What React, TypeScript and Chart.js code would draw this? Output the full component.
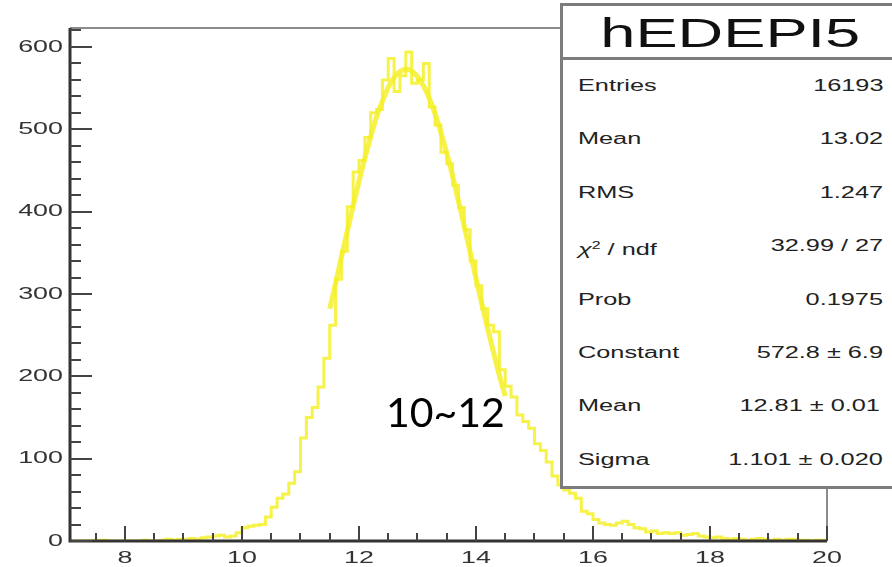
import React, { useEffect, useRef } from 'react';
import { Chart, registerables } from 'chart.js';

Chart.register(...registerables);

// ---- data ----
const BIN_LOW = 7.0;
const BIN_WIDTH = 0.1;
// 130 bins from 7.0 to 20.0
const COUNTS = [
  0, 0, 0, 0, 0, 1, 1, 0, 0, 0,
  0, 0, 0, 1, 0, 0, 1, 2, 1, 2,
  2, 3, 2, 4, 5, 6, 7, 5, 6, 10,
  16, 18, 19, 20, 29, 41, 52, 57, 70, 84,
  125, 150, 162, 187, 222, 262, 318, 352, 406, 448,
  462, 490, 520, 524, 560, 586, 546, 565, 594, 556,
  560, 580, 527, 505, 472, 458, 432, 405, 378, 340,
  310, 282, 262, 254, 208, 188, 175, 153, 145, 137,
  118, 110, 96, 79, 68, 62, 58, 52, 36, 33,
  26, 22, 20, 19, 22, 24, 20, 16, 15, 11,
  12, 9, 10, 9, 10, 7, 8, 9, 6, 5,
  4, 5, 3, 2, 3, 2, 1, 2, 3, 2,
  1, 2, 1, 2, 2, 1, 1, 0, 1, 1,
];
const FIT_X = [
  11.5, 11.6, 11.7, 11.8, 11.9, 12.0, 12.1, 12.2, 12.3, 12.4,
  12.5, 12.6, 12.7, 12.8, 12.9, 13.0, 13.1, 13.2, 13.3, 13.4,
  13.5, 13.6, 13.7, 13.8, 13.9, 14.0, 14.1, 14.2, 14.3, 14.4, 14.5,
];
const FIT_Y = [
  282, 313, 345, 376, 407, 437, 465, 491, 515, 534,
  551, 563, 570, 573, 571, 564, 553, 538, 519, 496,
  471, 443, 413, 382, 351, 319, 288, 258, 229, 201, 176,
];
const X_TICKS = [8, 10, 12, 14, 16, 18, 20];
const Y_TICKS = [0, 100, 200, 300, 400, 500, 600];
const X_MINOR = 0.5;
const Y_MINOR = 20;
const X_MIN = 7.06;
const X_MAX = 20;
const Y_MAX = 623;

const TITLE = 'hEDEPI5';
const STAT_LABELS = ['Entries', 'Mean', 'RMS', 'CHI', 'Prob', 'Constant', 'Mean', 'Sigma'];
const STAT_VALUES = ['16193', '13.02', '1.247', '32.99 / 27', '0.1975', '572.8 \u00b1 6.9', '12.81 \u00b1 0.01', '1.101 \u00b1 0.020'];
const ANNOTATION = '10~12';

// ---- style ----
const S = 1.58; // horizontal stretch of the reference
const FONT = '"Liberation Sans", Arial, Helvetica, sans-serif';
const YELLOW = 'rgba(244, 240, 40, 0.85)';

function stretchedText(ctx: CanvasRenderingContext2D, text: string, x: number, y: number, align: CanvasTextAlign) {
  ctx.save();
  ctx.translate(x, y);
  ctx.scale(S, 1);
  ctx.textAlign = align;
  ctx.textBaseline = 'middle';
  ctx.fillText(text, 0, 0);
  ctx.restore();
}

const rootFrame = {
  id: 'rootFrame',
  afterDatasetsDraw(chart: any) {
    const { ctx, chartArea: a, scales } = chart;
    const x = scales.x;
    const y = scales.y;
    ctx.save();
    ctx.lineCap = 'butt';
    // top and right frame
    ctx.strokeStyle = '#8c8c8c';
    ctx.lineWidth = 2;
    ctx.beginPath();
    ctx.moveTo(a.left, a.top);
    ctx.lineTo(a.right, a.top);
    ctx.lineTo(a.right, a.bottom);
    ctx.stroke();
    // axes
    ctx.strokeStyle = '#333';
    ctx.lineWidth = 3;
    ctx.beginPath();
    ctx.moveTo(a.left, a.top);
    ctx.lineTo(a.left, a.bottom);
    ctx.lineTo(a.right, a.bottom);
    ctx.stroke();
    // y ticks (inward)
    ctx.strokeStyle = '#444';
    ctx.lineWidth = 2;
    ctx.beginPath();
    for (let k = 0; k * Y_MINOR <= y.max; k++) {
      const v = k * Y_MINOR;
      const py = Math.round(y.getPixelForValue(v));
      const len = v % 100 === 0 ? 22 : 11;
      ctx.moveTo(a.left, py);
      ctx.lineTo(a.left + len, py);
    }
    ctx.stroke();
    // x ticks (inward)
    ctx.beginPath();
    for (let k = Math.ceil(x.min / X_MINOR); k * X_MINOR <= x.max + 1e-9; k++) {
      const v = k * X_MINOR;
      const px = Math.round(x.getPixelForValue(v));
      const len = v % 2 === 0 ? 15 : 8;
      ctx.moveTo(px, a.bottom);
      ctx.lineTo(px, a.bottom - len);
    }
    ctx.stroke();
    ctx.restore();
  },
  afterDraw(chart: any) {
    const { ctx, chartArea: a, scales } = chart;
    ctx.save();
    ctx.fillStyle = '#333';
    ctx.font = `17px ${FONT}`;
    for (const v of Y_TICKS) {
      stretchedText(ctx, String(v), a.left - 7, scales.y.getPixelForValue(v), 'right');
    }
    for (const v of X_TICKS) {
      stretchedText(ctx, String(v), scales.x.getPixelForValue(v), a.bottom + 17, 'center');
    }
    ctx.restore();
  },
};

function StatText({ text, left, right, cy, size }: { text: React.ReactNode; left?: number; right?: number; cy: number; size: number }) {
  const style: React.CSSProperties = {
    position: 'absolute',
    top: cy - size * 0.5,
    fontFamily: FONT,
    fontSize: size,
    lineHeight: `${size}px`,
    color: '#222',
    whiteSpace: 'nowrap',
    transform: `scaleX(${S})`,
    transformOrigin: left !== undefined ? 'left center' : 'right center',
  };
  if (left !== undefined) style.left = left;
  if (right !== undefined) style.right = right;
  return <div style={style}>{text}</div>;
}

export default function App() {
  const ref = useRef<HTMLCanvasElement | null>(null);

  useEffect(() => {
    const canvas = ref.current;
    if (!canvas) return;
    const hist = COUNTS.map((c, i) => ({ x: BIN_LOW + i * BIN_WIDTH, y: c }));
    hist.push({ x: BIN_LOW + COUNTS.length * BIN_WIDTH, y: COUNTS[COUNTS.length - 1] });
    const fit = FIT_X.map((xv, i) => ({ x: xv, y: FIT_Y[i] }));
    const chart = new Chart(canvas, {
      type: 'line',
      data: {
        datasets: [
          {
            label: 'hEDEPI5',
            data: hist,
            stepped: 'before',
            borderColor: YELLOW,
            borderWidth: 3,
            pointRadius: 0,
            fill: false,
          },
          {
            label: 'gaus',
            data: fit,
            borderColor: YELLOW,
            borderWidth: 5,
            pointRadius: 0,
            fill: false,
            cubicInterpolationMode: 'monotone',
          },
        ],
      } as any,
      options: {
        responsive: false,
        animation: false,
        devicePixelRatio: 1,
        layout: { padding: { left: 70, top: 28, right: 65, bottom: 26 } },
        plugins: { legend: { display: false }, tooltip: { enabled: false } },
        scales: {
          x: { type: 'linear', min: X_MIN, max: X_MAX, display: false },
          y: { type: 'linear', min: 0, max: Y_MAX, display: false },
        },
      } as any,
      plugins: [rootFrame],
    });
    return () => chart.destroy();
  }, []);

  const rowTop = 86;
  const rowStep = 53.4;

  return (
    <div style={{ position: 'fixed', left: 0, top: 0, width: 892, height: 567, background: '#fff', overflow: 'hidden' }}>
      <canvas ref={ref} width={892} height={567} style={{ position: 'absolute', left: 0, top: 0, width: 892, height: 567 }} />
      <div
        style={{
          position: 'absolute',
          left: 560,
          top: 3,
          width: 340,
          height: 486,
          boxSizing: 'border-box',
          border: '3px solid #7c7c7c',
          background: '#fff',
        }}
      />
      <div style={{ position: 'absolute', left: 560, top: 57, width: 340, height: 3, background: '#7c7c7c' }} />
      <div
        style={{
          position: 'absolute',
          left: 560,
          width: 340,
          top: 33 - 20,
          height: 40,
          textAlign: 'center',
          fontFamily: FONT,
          fontSize: 40,
          lineHeight: '40px',
          color: '#111',
        }}
      >
        <span style={{ display: 'inline-block', transform: `scaleX(${S})` }}>{TITLE}</span>
      </div>
      {STAT_LABELS.map((lab, i) => (
        <StatText
          key={'l' + i}
          left={578}
          cy={rowTop + i * rowStep}
          size={16}
          text={
            lab === 'CHI' ? (
              <span>
                <i>{'\u03c7'}</i>
                <sup style={{ fontSize: 10, verticalAlign: 6 }}>2</sup>
                {' / ndf'}
              </span>
            ) : (
              lab
            )
          }
        />
      ))}
      {STAT_VALUES.map((val, i) => (
        <StatText key={'v' + i} right={892 - (i === 6 ? 880 : 883)} cy={rowTop + i * rowStep} size={16} text={val} />
      ))}
      <div
        style={{
          position: 'absolute',
          left: 386,
          top: 391,
          fontFamily: 'Lato, "Open Sans", sans-serif',
          fontSize: 41,
          lineHeight: '41px',
          color: '#000',
          whiteSpace: 'nowrap',
        }}
      >
        {ANNOTATION}
      </div>
    </div>
  );
}
